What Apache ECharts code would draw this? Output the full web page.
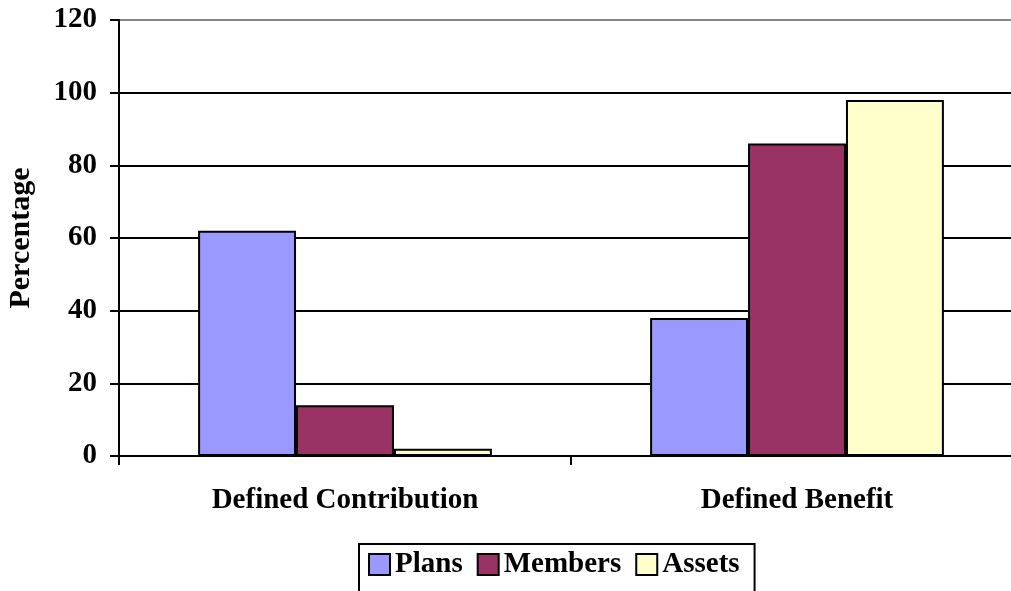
<!DOCTYPE html>
<html>
<head>
<meta charset="utf-8">
<script src="https://cdn.jsdelivr.net/npm/echarts@6/dist/echarts.min.js"></script>
<style>
  html, body { margin: 0; padding: 0; background: #fff; }
  #main { width: 1011px; height: 591px; }
</style>
</head>
<body>
<div id="main"></div>
<script>
const categories = ['Defined Contribution', 'Defined Benefit']
const plans = [62, 38]
const members = [14, 86]
const assets = [2, 98]
const yTicks = { min: 0, max: 120, interval: 20 }

const serif = '"Liberation Serif", "Times New Roman", serif'
const chart = echarts.init(document.getElementById('main'))

const option = {
  backgroundColor: '#fff',
  animation: false,
  textStyle: { fontFamily: serif, color: '#000', fontWeight: 'bold' },
  grid: { left: 119, right: -12, top: 20, bottom: 135, outerBoundsMode: 'none', containLabel: false },
  legend: {
    left: 359,
    top: 544,
    borderColor: '#000',
    borderWidth: 2,
    padding: [6, 15, 30, 9],
    itemWidth: 21,
    itemHeight: 21,
    itemGap: 14,
    icon: 'rect',
    itemStyle: { borderColor: '#000', borderWidth: 2 },
    textStyle: { fontFamily: serif, fontWeight: 'bold', fontSize: 29, color: '#000' },
    data: ['Plans', 'Members', 'Assets']
  },
  xAxis: {
    type: 'category',
    data: categories,
    axisLine: { lineStyle: { color: '#000', width: 2 } },
    axisTick: { show: true, length: 9, lineStyle: { color: '#000', width: 2 } },
    axisLabel: { margin: 30, fontSize: 29, fontWeight: 'bold', color: '#000', fontFamily: serif }
  },
  yAxis: {
    type: 'value',
    min: yTicks.min,
    max: yTicks.max,
    interval: yTicks.interval,
    name: 'Percentage',
    nameLocation: 'middle',
    nameRotate: 90,
    nameGap: 83,
    nameTextStyle: { fontSize: 30, fontWeight: 'bold', color: '#000', fontFamily: serif },
    axisLine: { show: true, lineStyle: { color: '#000', width: 2 } },
    axisTick: { show: true, length: 9, lineStyle: { color: '#000', width: 2 } },
    axisLabel: { margin: 22, fontSize: 29, fontWeight: 'bold', color: '#000', fontFamily: serif },
    splitLine: {
      show: true,
      lineStyle: { color: ['#000', '#000', '#000', '#000', '#000', '#000', '#888'], width: 2 }
    }
  },
  series: [
    {
      name: 'Plans', type: 'bar', data: plans,
      barGap: '0%', barCategoryGap: '35%',
      itemStyle: { color: '#9999FF', borderColor: '#000', borderWidth: 2 }
    },
    {
      name: 'Members', type: 'bar', data: members,
      itemStyle: { color: '#993366', borderColor: '#000', borderWidth: 2 }
    },
    {
      name: 'Assets', type: 'bar', data: assets,
      itemStyle: { color: '#FFFFCC', borderColor: '#000', borderWidth: 2 }
    }
  ]
}
chart.setOption(option)
</script>
</body>
</html>
